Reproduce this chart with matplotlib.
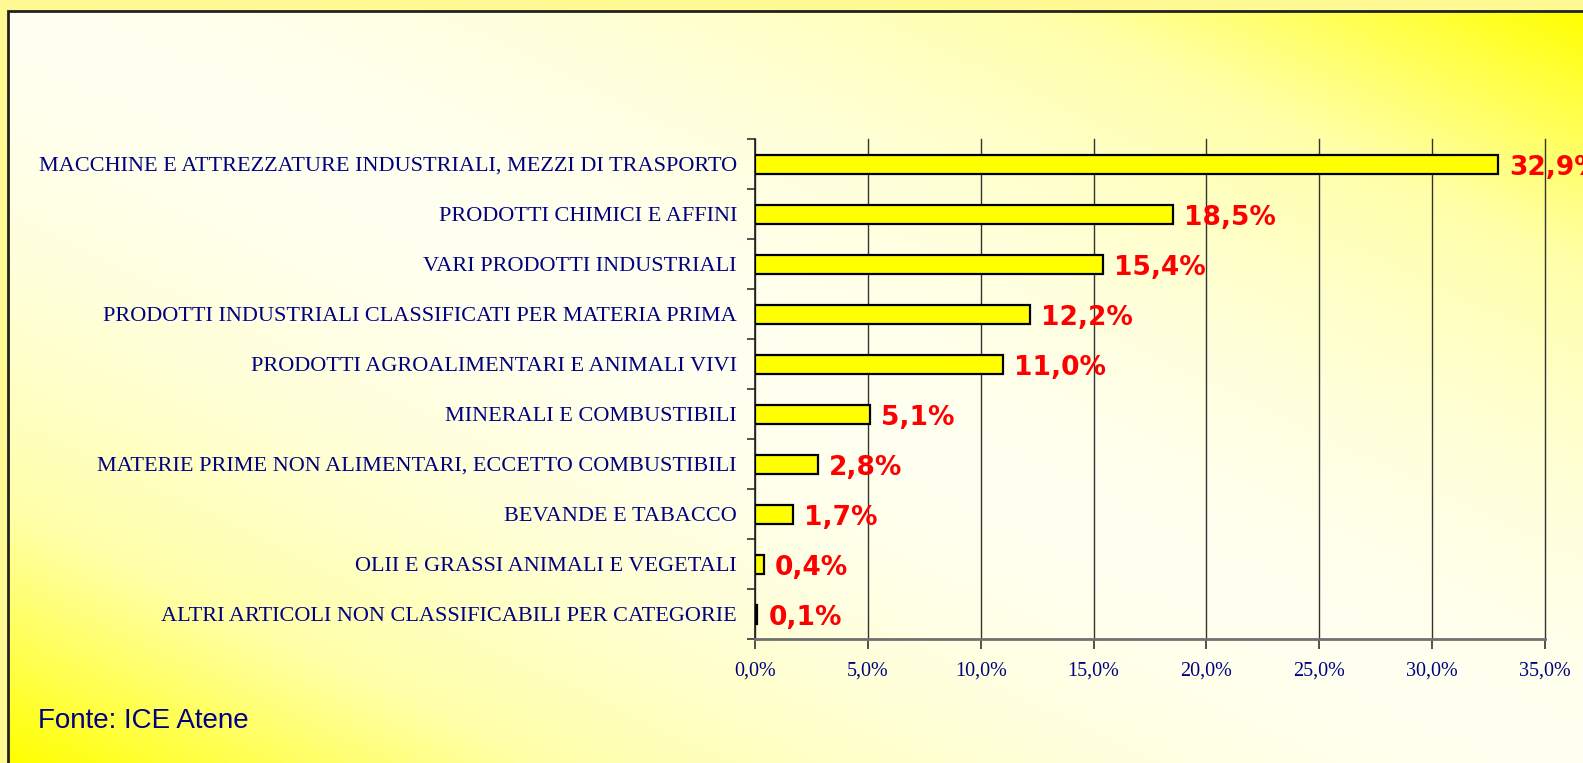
import numpy as np
import matplotlib
matplotlib.use('Agg')
import matplotlib.pyplot as plt
from matplotlib.colors import LinearSegmentedColormap
from matplotlib.patches import Rectangle

# data (share %, top to bottom as in the chart)
categories = [
    'MACCHINE E ATTREZZATURE INDUSTRIALI, MEZZI DI TRASPORTO',
    'PRODOTTI CHIMICI E AFFINI',
    'VARI PRODOTTI INDUSTRIALI',
    'PRODOTTI INDUSTRIALI CLASSIFICATI PER MATERIA PRIMA',
    'PRODOTTI AGROALIMENTARI E ANIMALI VIVI',
    'MINERALI E COMBUSTIBILI',
    'MATERIE PRIME NON ALIMENTARI, ECCETTO COMBUSTIBILI',
    'BEVANDE E TABACCO',
    'OLII E GRASSI ANIMALI E VEGETALI',
    'ALTRI ARTICOLI NON CLASSIFICABILI PER CATEGORIE',
]
values = [32.9, 18.5, 15.4, 12.2, 11.0, 5.1, 2.8, 1.7, 0.4, 0.1]
xticks = [0, 5, 10, 15, 20, 25, 30, 35]
source = 'Fonte: ICE Atene'

navy = '#000080'
W, H = 1583, 763

fig = plt.figure(figsize=(W / 100, H / 100), dpi=100)
fig.patch.set_facecolor('#fff994')

# background panel with diagonal gradient (white along the main diagonal, yellow at the corners)
bx0, by0 = 8 / W, 1 - 11 / H
bg = fig.add_axes([bx0, 0, 1 - bx0, by0], zorder=0)
u, v = np.meshgrid(np.linspace(0, 1, 400), np.linspace(0, 1, 200))
t = np.abs(u - v) ** 1.7
cmap = LinearSegmentedColormap.from_list('bg', ['#fffff0', '#ffffa8', '#ffff00'])
bg.imshow(t, cmap=cmap, aspect='auto', extent=[0, 1, 0, 1], origin='upper', vmin=0, vmax=1)
bg.set_xlim(0, 1)
bg.set_ylim(0, 1)
bg.axis('off')
fig.add_artist(Rectangle((bx0, -0.01), 1.1, by0 + 0.01, transform=fig.transFigure,
                         fill=False, edgecolor='#222222', linewidth=2, zorder=1))

ax = fig.add_axes([755 / W, 1 - 639 / H, 790 / W, 500 / H], zorder=2)
ax.patch.set_alpha(0)

y = np.arange(len(categories))
ax.barh(y, values, height=0.38, color='#ffff00', edgecolor='black', linewidth=1.6, zorder=3)
ax.set_ylim(len(categories) - 0.5, -0.5)
ax.set_xlim(0, 35)

for yi, val in zip(y, values):
    ax.annotate(f'{val:.1f}%'.replace('.', ','), (val, yi), xytext=(8, -3),
                textcoords='offset points', va='center', ha='left',
                color='#ff0000', fontweight='bold', fontsize=19,
                family='DejaVu Sans', annotation_clip=False, zorder=4)

ax.set_xticks(xticks)
ax.set_xticklabels([f'{x:.1f}%'.replace('.', ',') for x in xticks],
                   family='Liberation Serif', fontsize=14.5, color=navy)
ax.tick_params(axis='x', direction='out', length=7, width=1.2, color='#333333', pad=9)

ax.set_yticks(y)
ax.set_yticklabels(categories, family='Liberation Serif', fontsize=16, color=navy)
ax.set_yticks(np.arange(-0.5, len(categories), 1), minor=True)
ax.tick_params(axis='y', which='major', length=0, pad=13)
ax.tick_params(axis='y', which='minor', direction='out', length=6, width=1.2, color='#333333')

ax.grid(axis='x', color='#333333', linewidth=1, zorder=1)
for gl in ax.get_xgridlines():
    gl.set_clip_on(False)
ax.set_axisbelow(True)
ax.spines['top'].set_visible(False)
ax.spines['right'].set_visible(False)
ax.spines['left'].set_color('#222222')
ax.spines['left'].set_linewidth(1.2)
ax.spines['bottom'].set_color('#707070')
ax.spines['bottom'].set_linewidth(2)

fig.text(38 / W, 1 - 721 / H, source, family='Liberation Sans', fontsize=20,
         color=navy, va='center', ha='left', zorder=5)

fig.savefig('out.png', dpi=100, facecolor=fig.get_facecolor())
